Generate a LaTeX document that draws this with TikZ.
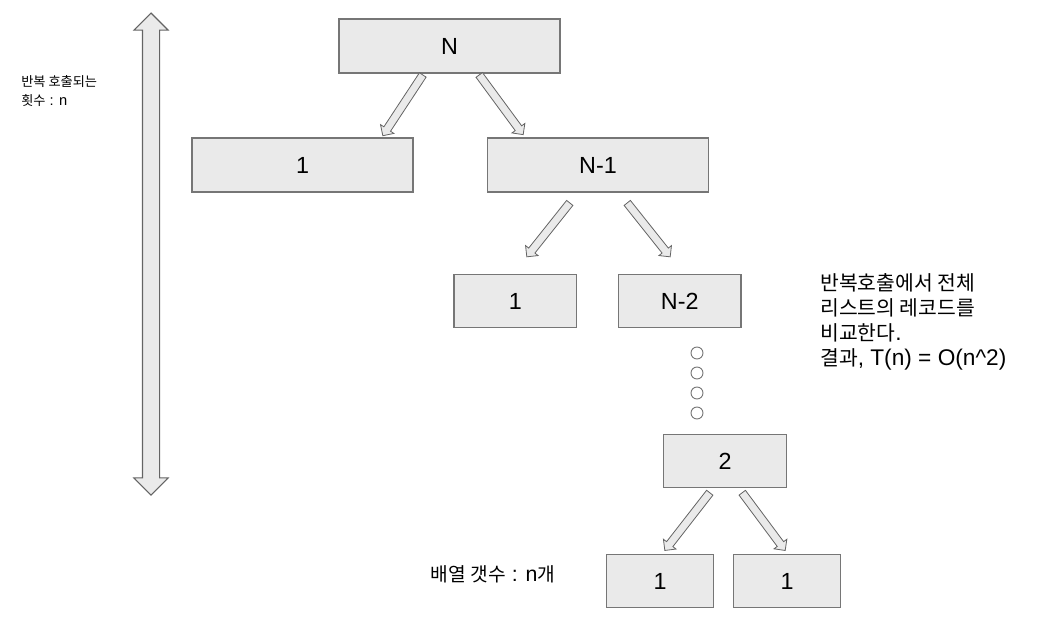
\documentclass[tikz,border=0pt]{standalone}
\usepackage{fontspec}
\setmainfont{Liberation Sans}
\newfontfamily\kr[Scale=0.9]{Noto Sans CJK KR}
\usepackage{xcolor}
\usetikzlibrary{positioning}
\usetikzlibrary{shapes.arrows}
\usetikzlibrary{calc}

\definecolor{boxfill}{RGB}{234,234,234}
\definecolor{boxline}{RGB}{118,118,118}
\definecolor{arrline}{RGB}{100,100,100}

% block arrow from #1 (tail) to #2 (tip)
\newcommand{\blk}[2]{%
 \path let \p1=(#1), \p2=(#2), \n1={atan2(\y2-\y1,\x2-\x1)}, \n2={veclen(\x2-\x1,\y2-\y1)} in
   node[blkarrow, minimum height=\n2, rotate=\n1, anchor=tail] at (\p1) {};}

\begin{document}
\begin{tikzpicture}[x=0.75pt, y=-0.75pt,
  box/.style={draw=boxline, fill=boxfill, line width=0.9pt, inner sep=0pt, font=\fontsize{17.5}{21}\selectfont},
  bigbox/.style={box, minimum width=165.75pt, minimum height=40.5pt},
  midbox/.style={box, minimum width=92pt, minimum height=39.75pt},
  smallbox/.style={box, minimum width=80pt, minimum height=39.75pt},
  blkarrow/.style={single arrow, draw=arrline, fill=boxfill, line width=0.6pt, inner sep=2.7pt, single arrow head extend=3pt, single arrow tip angle=90},
  dot/.style={circle, draw=boxline, fill=white, line width=0.7pt, minimum size=9pt, inner sep=0pt}]

 \useasboundingbox (0,0) rectangle (1063,619);

 %l1
 \node[bigbox] (l1) at (449.5,46) {N};

 %l2
 \node[bigbox] (l21) at (302.5,165) {1};
 \node[bigbox] (l22) at (598,165) {N-1};

 %l3
 \node[midbox] (l31) at (515.3,301) {1};
 \node[midbox] (l32) at (679.7,301) {N-2};

 %dots
 \node[dot] (d1) at (697,353) {};
 \node[dot] (d2) at (697,373) {};
 \node[dot] (d3) at (697,393) {};
 \node[dot] (d4) at (697,413) {};

 %l4
 \node[midbox] (l4) at (725,461) {2};

 %l5
 \node[smallbox] (l51) at (660,581.3) {1};
 \node[smallbox] (l52) at (787,581.3) {1};

 %arrows
 \blk{$(l1.south)+(-26.5,1)$}{$(l21.north)+(80.5,-2)$}
 \blk{$(l1.south)+(29.5,1)$}{$(l22.north)+(-75,-3)$}

 \blk{$(l22.south)+(-28,10)$}{$(l31.north)+(11.7,-17.3)$}
 \blk{$(l22.south)+(29,10)$}{$(l32.north)+(-9.7,-17.3)$}

 \blk{$(l4.south)+(-15,4.3)$}{$(l51.north)+(5,-4)$}
 \blk{$(l4.south)+(17,4.3)$}{$(l52.north)+(-2,-4)$}

 %depth
 \node[double arrow, draw=arrline, fill=boxfill, line width=0.8pt, inner sep=6pt,
   double arrow head extend=6.5pt, double arrow tip angle=90,
   minimum height=361.5pt, rotate=90] (depth) at (151,254) {};

 %texts
 \node[align=left, anchor=west, inner sep=0pt, font=\fontsize{11}{14.25}\selectfont] (calls) at (21,91)
   {{\kr 반복 호출되는}\\{\kr 횟수} : n};

 \node[align=left, anchor=west, inner sep=0pt, font=\fontsize{17}{18.75}\selectfont] (note) at (820,322)
   {{\kr 반복호출에서 전체}\\{\kr 리스트의 레코드를}\\{\kr 비교한다}.\\{\kr 결과}, T(n) = O(n\textasciicircum 2)};

 \node[inner sep=0pt, font=\fontsize{16}{18}\selectfont] (count) at (493,574)
   {{\kr 배열 갯수} : n{\kr 개}};

\end{tikzpicture}
\end{document}
